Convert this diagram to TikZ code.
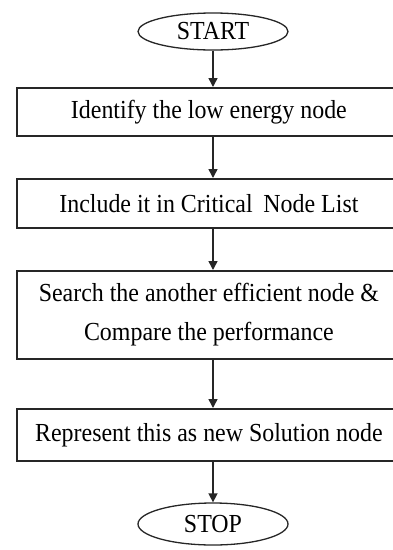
\documentclass[tikz,border=0pt]{standalone}
\usepackage{fontspec}
\usepackage{graphicx}
\setmainfont{Liberation Serif}
\usetikzlibrary{shapes.geometric,arrows.meta}
\newcommand\tx[1]{\scalebox{0.92}[1]{#1}}
\tikzset{
  box/.style={draw=black!85, line width=1.8pt, rectangle, inner sep=0pt, anchor=north west,
              minimum width=384pt, font=\fontsize{26}{39}\selectfont, align=center},
  term/.style={draw=black!85, line width=1.3pt, ellipse, inner sep=0pt,
              minimum width=150pt, font=\fontsize{26}{30}\selectfont},
  arr/.style={draw=black!85, line width=1.5pt, -{Triangle[length=9pt,width=9pt]}}
}
\begin{document}
\begin{tikzpicture}[x=1pt,y=-1pt]
\useasboundingbox (0,0) rectangle (393,550);
\clip (0,0) rectangle (393,550);
\node[term, minimum height=37pt] (start) at (213,31.5) {\tx{START}};
\node[box, minimum height=48pt] (b1) at (16,87) {\tx{Identify the low energy node}};
\node[box, minimum height=49pt] (b2) at (16,178) {\tx{Include it in Critical\hspace{0.45em}Node List}};
\node[box, minimum height=88pt] (b3) at (16,270) {\tx{Search the another efficient node \&}\\\tx{Compare the performance}};
\node[box, minimum height=52pt] (b4) at (16,408) {\tx{Represent this as new Solution node}};
\node[term, minimum height=42pt] (stop) at (213,524) {\tx{STOP}};
\draw[arr] (start.south) -- (start.south |- b1.north);
\draw[arr] (b1.south -| start.south) -- (b2.north -| start.south);
\draw[arr] (b2.south -| start.south) -- (b3.north -| start.south);
\draw[arr] (b3.south -| start.south) -- (b4.north -| start.south);
\draw[arr] (b4.south -| stop.north) -- (stop.north);
\end{tikzpicture}
\end{document}
